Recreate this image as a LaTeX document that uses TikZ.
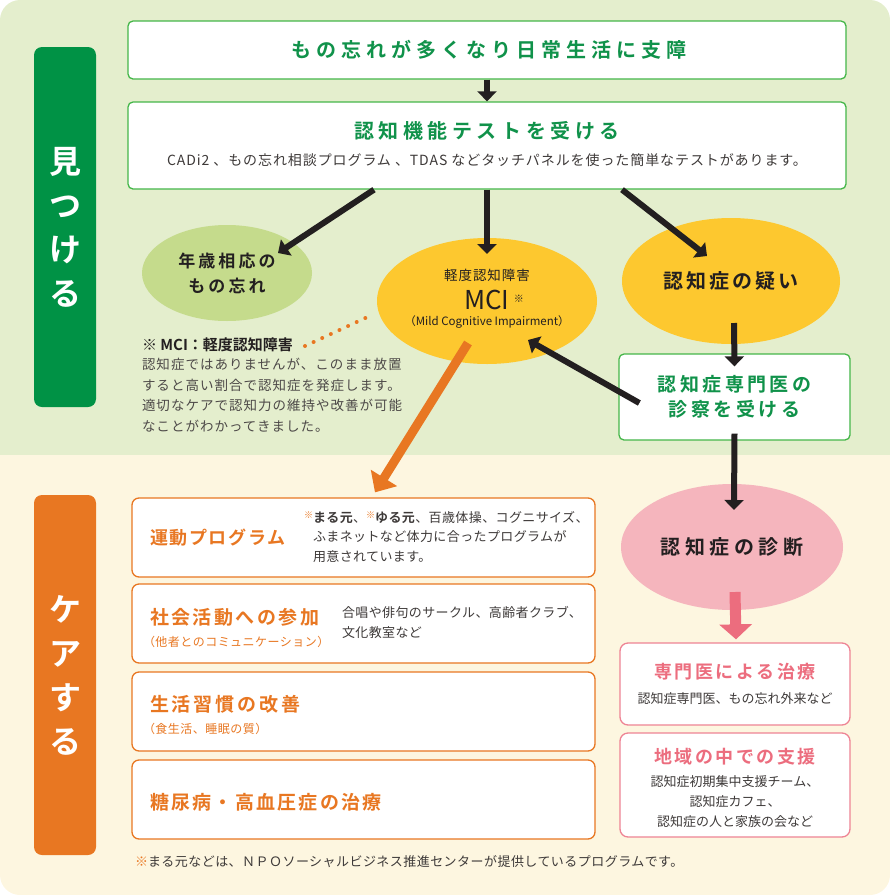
\documentclass[tikz,border=0pt]{standalone}
\usepackage{fontspec}
\setmainfont{Noto Sans CJK JP}[BoldFont={Noto Sans CJK JP Bold}]
\usetikzlibrary{arrows.meta,calc,shapes.geometric}
\definecolor{bggreen}{HTML}{E4EECD}
\definecolor{bgcream}{HTML}{FDF6E0}
\definecolor{lblgreen}{HTML}{009245}
\definecolor{gborder}{HTML}{45B649}
\definecolor{gtext}{HTML}{10924A}
\definecolor{ink}{HTML}{231F20}
\definecolor{txtgray}{HTML}{3E3A39}
\definecolor{notegray}{HTML}{4D4948}
\definecolor{ylw}{HTML}{FDC82F}
\definecolor{lgreen}{HTML}{C5DB8C}
\definecolor{pinkfill}{HTML}{F5B5BD}
\definecolor{pinkdark}{HTML}{EC6D7E}
\definecolor{pinkborder}{HTML}{EE8494}
\definecolor{orng}{HTML}{E87722}
\newcommand\fs[2]{\fontsize{#1}{#2}\selectfont}
\newcommand\ls[1]{\addfontfeature{LetterSpace=#1}}
\newcommand\mk{{\color{orng}\raisebox{4pt}{\fs{9}{9}※}}}
\tikzset{
  txt/.style={inner sep=0pt, outer sep=0pt},
  gbox/.style={draw=gborder, line width=1.3pt, fill=white, rounded corners=5pt, inner sep=0pt},
  pbox/.style={draw=pinkborder, line width=1.3pt, fill=white, rounded corners=8pt, inner sep=0pt},
  obox/.style={draw=orng, line width=1.3pt, fill=white, rounded corners=7pt, inner sep=0pt, minimum width=463pt, minimum height=79pt},
  lbl/.style={rounded corners=8pt, minimum width=62pt, minimum height=360pt, inner sep=0pt, text=white, align=center, font=\fs{32}{44}\bfseries},
  blob/.style={ellipse, inner sep=0pt},
  blk/.style={draw=ink, line width=6pt, -{Triangle[width=19pt,length=10pt]}},
  orarrow/.style={draw=orng, line width=9pt, -{Triangle[width=30pt,length=17pt]}},
  pkarrow/.style={draw=pinkdark, line width=11pt, -{Triangle[width=32pt,length=15pt]}},
  dots/.style={draw=orng, line width=4pt, line cap=round, dash pattern=on 0pt off 9.5pt},
}
\begin{document}
\begin{tikzpicture}[x=1pt,y=-1pt]
\useasboundingbox (0,0) rectangle (890,895);
\begin{scope}
\clip[rounded corners=20pt] (0,0) rectangle (890,895);
\fill[bggreen] (0,0) rectangle (890,455);
\fill[bgcream] (0,455) rectangle (890,895);
\end{scope}
% side labels
\node[lbl, fill=lblgreen] (L1) at (65,227) {見\\つ\\け\\る};
\node[lbl, fill=orng] (L2) at (65,675) {ケ\\ア\\す\\る};
% top boxes
\node[gbox, minimum width=718pt, minimum height=58pt] (b1) at (487,50) {};
\node[txt, text=gtext, font=\fs{20}{24}\bfseries\ls{25}] (b1t) at (489,50) {もの忘れが多くなり日常生活に支障};
\node[gbox, minimum width=718pt, minimum height=87pt] (b2) at (487,145.5) {};
\node[txt, text=gtext, font=\fs{20}{24}\bfseries\ls{23}] (b2t) at (487,131) {認知機能テストを受ける};
\node[txt, text=txtgray, font=\fs{14}{16}\ls{6.5}] (b2s) at (487,160) {CADi2 、もの忘れ相談プログラム 、TDAS などタッチパネルを使った簡単なテストがあります。};
% ellipses
\node[blob, fill=lgreen, minimum width=170pt, minimum height=96pt, align=center, text=ink, font=\fs{17}{25}\bfseries\ls{18}] (e1) at (227,273) {年歳相応の\\もの忘れ};
\node[blob, fill=ylw, minimum width=220pt, minimum height=126pt] (e2) at (487,301) {};
\node[txt, text=ink, font=\fs{13.5}{16}\ls{7}] (e2a) at (487,275) {軽度認知障害};
\node[txt, text=ink, font=\fs{26}{28}] (e2b) at (494,300) {MCI\,\raisebox{7pt}{\fs{10}{10}※}};
\node[txt, text=ink, font=\fs{11.5}{13}] (e2c) at (487,322) {（Mild Cognitive Impairment）};
\node[blob, fill=ylw, minimum width=218pt, minimum height=126pt, text=ink, font=\fs{20}{24}\bfseries\ls{15}] (e3) at (731,281) {認知症の疑い};
\node[gbox, minimum width=231pt, minimum height=86pt, align=center, text=gtext, font=\fs{19}{25}\bfseries\ls{18}] (b3) at (734.5,397) {認知症専門医の\\診察を受ける};
\node[blob, fill=pinkfill, minimum width=222pt, minimum height=126pt, text=ink, font=\fs{20}{24}\bfseries\ls{23}] (e4) at (732,547) {認知症の診断};
% MCI note
\node[txt, anchor=west, text=ink, font=\fs{15}{18}\bfseries] (nt) at (142,345) {※ MCI：軽度認知障害};
\node[txt, anchor=north west, align=left, text=notegray, font=\fs{13.5}{20.7}\ls{7.5}] (nb) at (142,358) {認知症ではありませんが、このまま放置\\すると高い割合で認知症を発症します。\\適切なケアで認知力の維持や改善が可能\\なことがわかってきました。};
% pink boxes
\node[pbox, minimum width=230pt, minimum height=82pt] (b5) at (735,684) {};
\node[txt, text=pinkdark, font=\fs{18}{22}\bfseries\ls{14}] (b5t) at (735,672) {専門医による治療};
\node[txt, text=txtgray, font=\fs{13}{16}] (b5s) at (735,699) {認知症専門医、もの忘れ外来など};
\node[pbox, minimum width=230pt, minimum height=104pt] (b6) at (735,785) {};
\node[txt, text=pinkdark, font=\fs{18}{22}\bfseries\ls{14}] (b6t) at (735,757) {地域の中での支援};
\node[txt, text=txtgray, font=\fs{13}{20}, align=center] (b6s) at (735,802) {認知症初期集中支援チーム、\\認知症カフェ、\\認知症の人と家族の会など};
% orange boxes
\node[obox] (oA) at (363.5,537.5) {};
\node[txt, anchor=west, text=orng, font=\fs{18}{22}\bfseries\ls{9}] (oAt) at (150,538) {運動プログラム};
\node[txt, anchor=north west, align=left, text=txtgray, font=\fs{13}{19.5}\ls{3}] (oAs) at (313,511) {\llap{\mk}\textbf{まる元}、\mk\textbf{ゆる元}、百歳体操、コグニサイズ、\\ふまネットなど体力に合ったプログラムが\\用意されています。};
\node[obox] (oB) at (363.5,623.5) {};
\node[txt, anchor=west, text=orng, font=\fs{19}{22}\bfseries\ls{13}] (oBt) at (150,617) {社会活動への参加};
\node[txt, anchor=west, text=orng, font=\fs{12}{14}\ls{4}] (oBs) at (143,642) {（他者とのコミュニケーション）};
\node[txt, anchor=north west, align=left, text=txtgray, font=\fs{13}{20}\ls{3}] (oBr) at (342,606) {合唱や俳句のサークル、高齢者クラブ、\\文化教室など};
\node[obox] (oC) at (363.5,711.5) {};
\node[txt, anchor=west, text=orng, font=\fs{19}{22}\bfseries\ls{15}] (oCt) at (150,704) {生活習慣の改善};
\node[txt, anchor=west, text=orng, font=\fs{12}{14}\ls{4}] (oCs) at (143,729) {（食生活、睡眠の質）};
\node[obox] (oD) at (363.5,799.5) {};
\node[txt, anchor=west, text=orng, font=\fs{19}{22}\bfseries\ls{12}] (oDt) at (150,802) {糖尿病・高血圧症の治療};
% footer
\node[txt, anchor=west, text=txtgray, font=\fs{13}{15}\ls{3.5}] (ft) at (135,862) {{\color{orng}※}まる元などは、ＮＰＯソーシャルビジネス推進センターが提供しているプログラムです。};
% connectors
\draw[blk] (b1.south) -- (b2.north);
\draw[blk] ([shift={(-113,0)}]b2.south) -- ([shift={(51,-20)}]e1.center);
\draw[blk] (b2.south) -- ([shift={(0,-47)}]e2.center);
\draw[blk] ([shift={(135,0)}]b2.south) -- ([shift={(-24,-25)}]e3.center);
\draw[blk] ([shift={(3,42)}]e3.center) -- ([shift={(0,13)}]b3.north);
\draw[blk] ([shift={(21,6)}]b3.west) -- ([shift={(41,39)}]e2.center);
\draw[blk] ([shift={(0,-7)}]b3.south) -- ([shift={(2,-37)}]e4.center);
\draw[pkarrow] ([shift={(3,45)}]e4.center) -- ([shift={(1,-3)}]b5.north);
\draw[orarrow] ([shift={(-19,42)}]e2.center) -- ([shift={(11.5,-5)}]oA.north);
\draw[dots] ([shift={(12,1)}]nt.east) -- ([shift={(-5,14)}]e2.west);
\end{tikzpicture}
\end{document}
